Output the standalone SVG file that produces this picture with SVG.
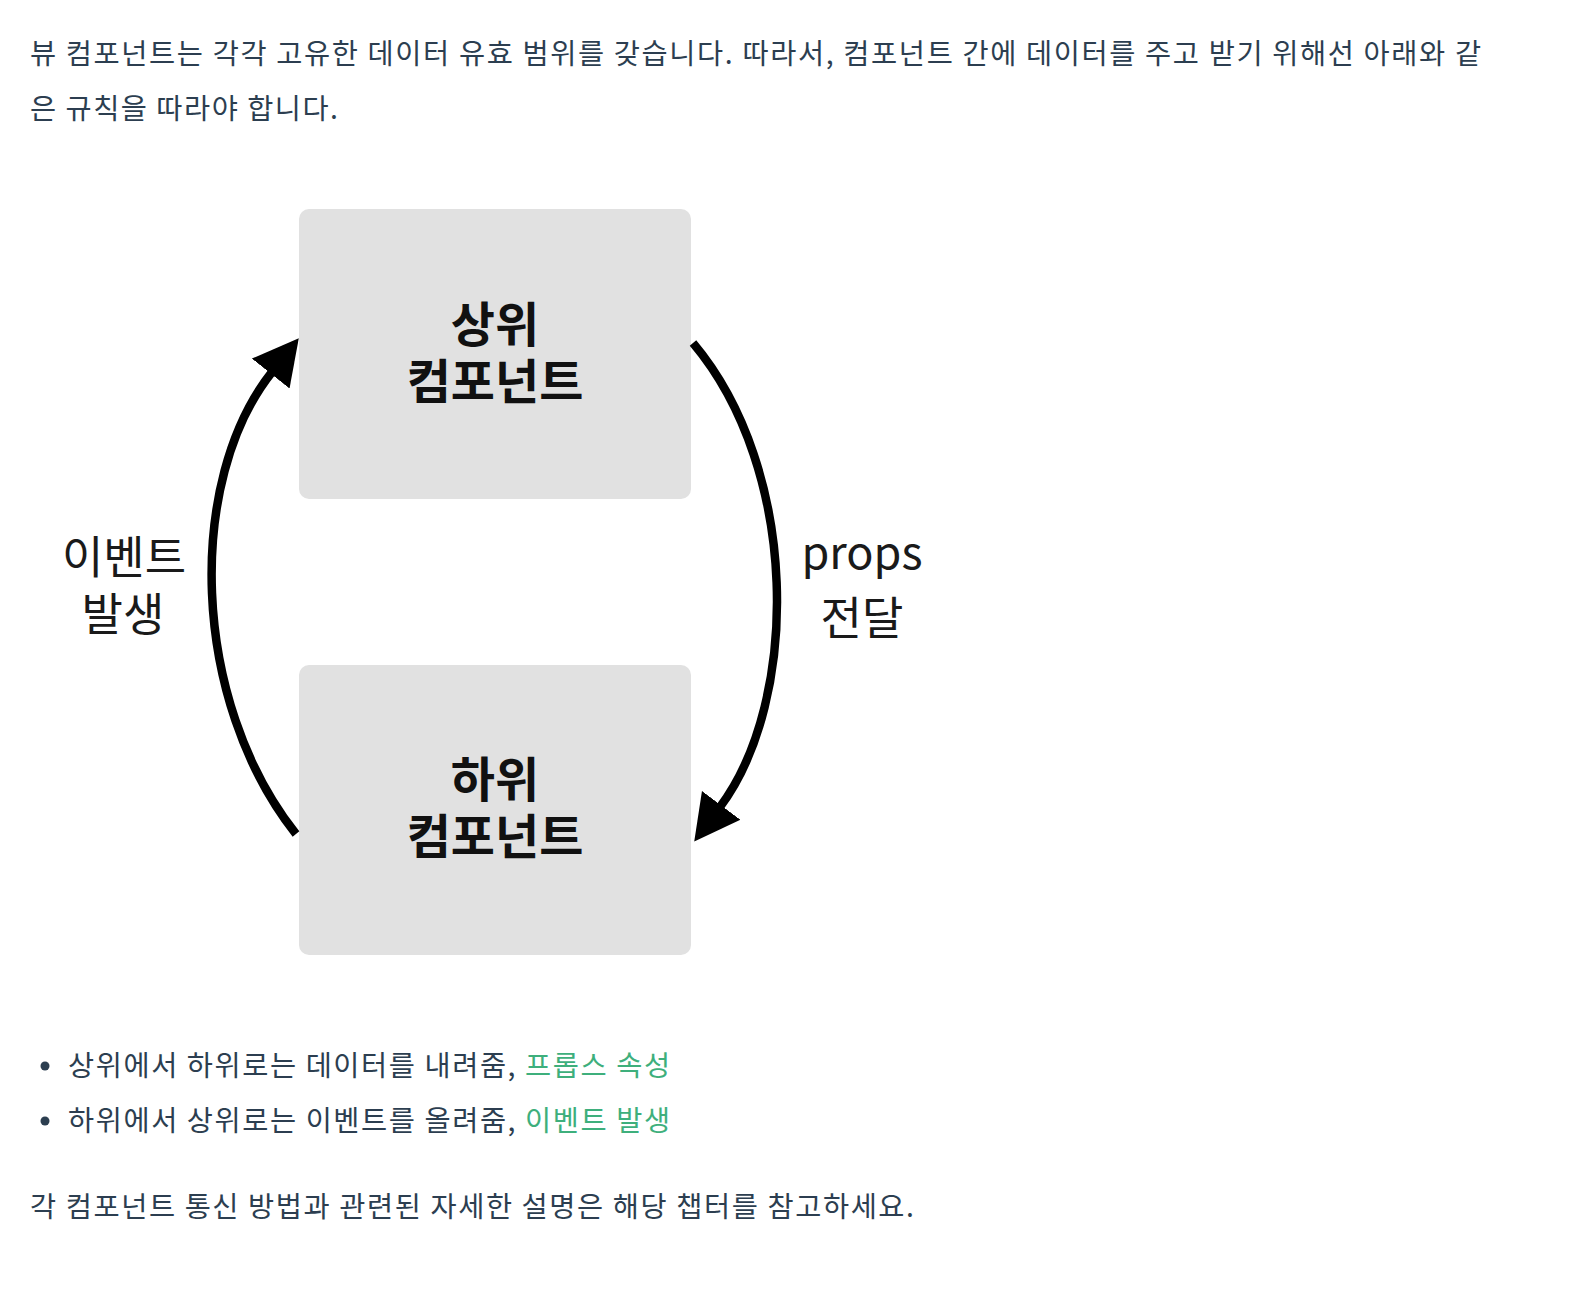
<svg xmlns="http://www.w3.org/2000/svg" width="1580" height="1298" viewBox="0 0 1580 1298">
<style>
.body{font-family:"Noto Sans CJK KR","Noto Sans",sans-serif;font-size:28.4px;fill:#2c3e50}
.green{fill:#3eaf7c}
.box{fill:#e1e1e1}
.ntext{font-family:"Noto Sans CJK KR","Noto Sans",sans-serif;font-size:48px;font-weight:700;fill:#111;text-anchor:middle}
.lbl{font-family:"Noto Sans CJK KR","Noto Sans",sans-serif;font-size:45px;fill:#1a1a1a;text-anchor:middle}
.edge{fill:none;stroke:#000;stroke-width:8.5}
</style>
<defs>
<marker id="ah" markerUnits="userSpaceOnUse" viewBox="0 0 46 50" markerWidth="46" markerHeight="50" refX="2" refY="25" orient="auto">
<path d="M0,1 L45,25 L0,49 Z" fill="#000"/>
</marker>
</defs>
<rect width="1580" height="1298" fill="#fff"/>
<text class="body" x="30" y="64" textLength="1451" lengthAdjust="spacing">뷰 컴포넌트는 각각 고유한 데이터 유효 범위를 갖습니다. 따라서, 컴포넌트 간에 데이터를 주고 받기 위해선 아래와 같</text>
<text class="body" x="30" y="119" textLength="308" lengthAdjust="spacing">은 규칙을 따라야 합니다.</text>

<g id="node-parent">
<rect class="box" x="299" y="209" width="392" height="290" rx="10"/>
<text class="ntext" x="495"><tspan x="495" y="342">상위</tspan><tspan x="495" y="399">컴포넌트</tspan></text>
</g>
<g id="node-child">
<rect class="box" x="299" y="665" width="392" height="290" rx="10"/>
<text class="ntext" x="495"><tspan x="495" y="797">하위</tspan><tspan x="495" y="854">컴포넌트</tspan></text>
</g>
<g id="connectors">
<path class="edge" d="M296,834 C190,700 186,480 272,372" marker-end="url(#ah)"/>
<path class="edge" d="M693,343 C800,470 800,700 720,807" marker-end="url(#ah)"/>
<text class="lbl" x="124"><tspan x="124" y="574">이벤트</tspan><tspan x="123" y="631">발생</tspan></text>
<text class="lbl" x="862"><tspan x="862" y="569">props</tspan><tspan x="862" y="635">전달</tspan></text>
</g>

<circle cx="45" cy="1066" r="4.5" fill="#2c3e50"/>
<text class="body" x="68" y="1076" textLength="602" lengthAdjust="spacing">상위에서 하위로는 데이터를 내려줌, <tspan class="green">프롭스 속성</tspan></text>
<circle cx="45" cy="1121" r="4.5" fill="#2c3e50"/>
<text class="body" x="68" y="1131" textLength="602" lengthAdjust="spacing">하위에서 상위로는 이벤트를 올려줌, <tspan class="green">이벤트 발생</tspan></text>
<text class="body" x="30" y="1217" textLength="884" lengthAdjust="spacing">각 컴포넌트 통신 방법과 관련된 자세한 설명은 해당 챕터를 참고하세요.</text>
</svg>
